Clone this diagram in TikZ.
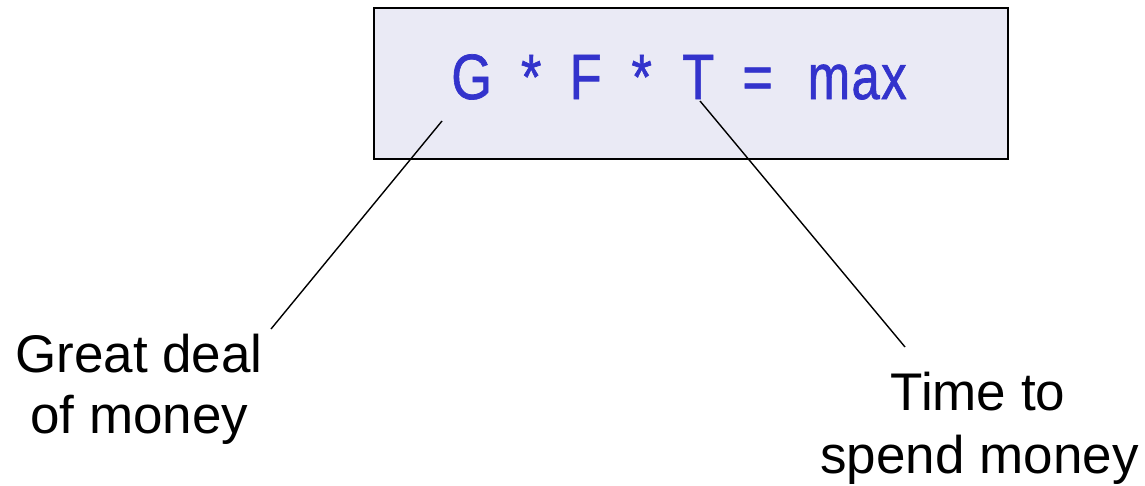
\documentclass[tikz,border=0pt]{standalone}
\usepackage{fontspec}
\usepackage{graphicx}
\setmainfont{Liberation Sans}
\newfontfamily\formulafont[FakeBold=1.1]{Liberation Sans}
\definecolor{formulablue}{RGB}{51,51,204}
\definecolor{boxfill}{RGB}{234,234,245}
\newcommand\ftok[3][0.82]{\makebox[0pt][c]{\scalebox{#1}[1]{#2}}\hspace{#3pt}}
\tikzset{
  formulabox/.style={draw=black, line width=2pt, fill=boxfill},
  formula/.style={inner sep=0pt, text=formulablue, font=\formulafont\fontsize{64}{70}\selectfont},
  label/.style={inner sep=0pt, text=black, font=\fontsize{53}{62}\selectfont},
  connector/.style={draw=black, line width=1.4pt}
}
\begin{document}
\begin{tikzpicture}[x=1pt,y=-1pt]
\useasboundingbox (0,0) rectangle (1145,485);
\node[formulabox, minimum width=634pt, minimum height=151pt, anchor=north west, inner sep=0pt] (box) at (373,7) {};
\node[formula, anchor=base west] (eq) at (471.5,99)
  {\ftok{G}{59.5}\ftok{*}{54.5}\ftok{F}{56}\ftok{*}{56.5}\ftok{T}{59.5}\ftok{=}{99.5}\ftok[0.8]{m\kern1.5pt a\kern1.5pt x}{0}};
\node[label, anchor=base] (gd1) at (139,372) {Great deal};
\node[label, anchor=base] (gd2) at (139.5,433) {of money};
\node[label, anchor=base] (ts1) at (978,410) {Time to};
\node[label, anchor=base] (ts2) at (979.5,473) {spend money};
\coordinate (gtop) at (442,121);
\coordinate (gbot) at (271,329);
\coordinate (ttop) at (700,101);
\coordinate (tbot) at (905,347);
\draw[connector] (gtop) -- (gbot);
\draw[connector] (ttop) -- (tbot);
\end{tikzpicture}
\end{document}
